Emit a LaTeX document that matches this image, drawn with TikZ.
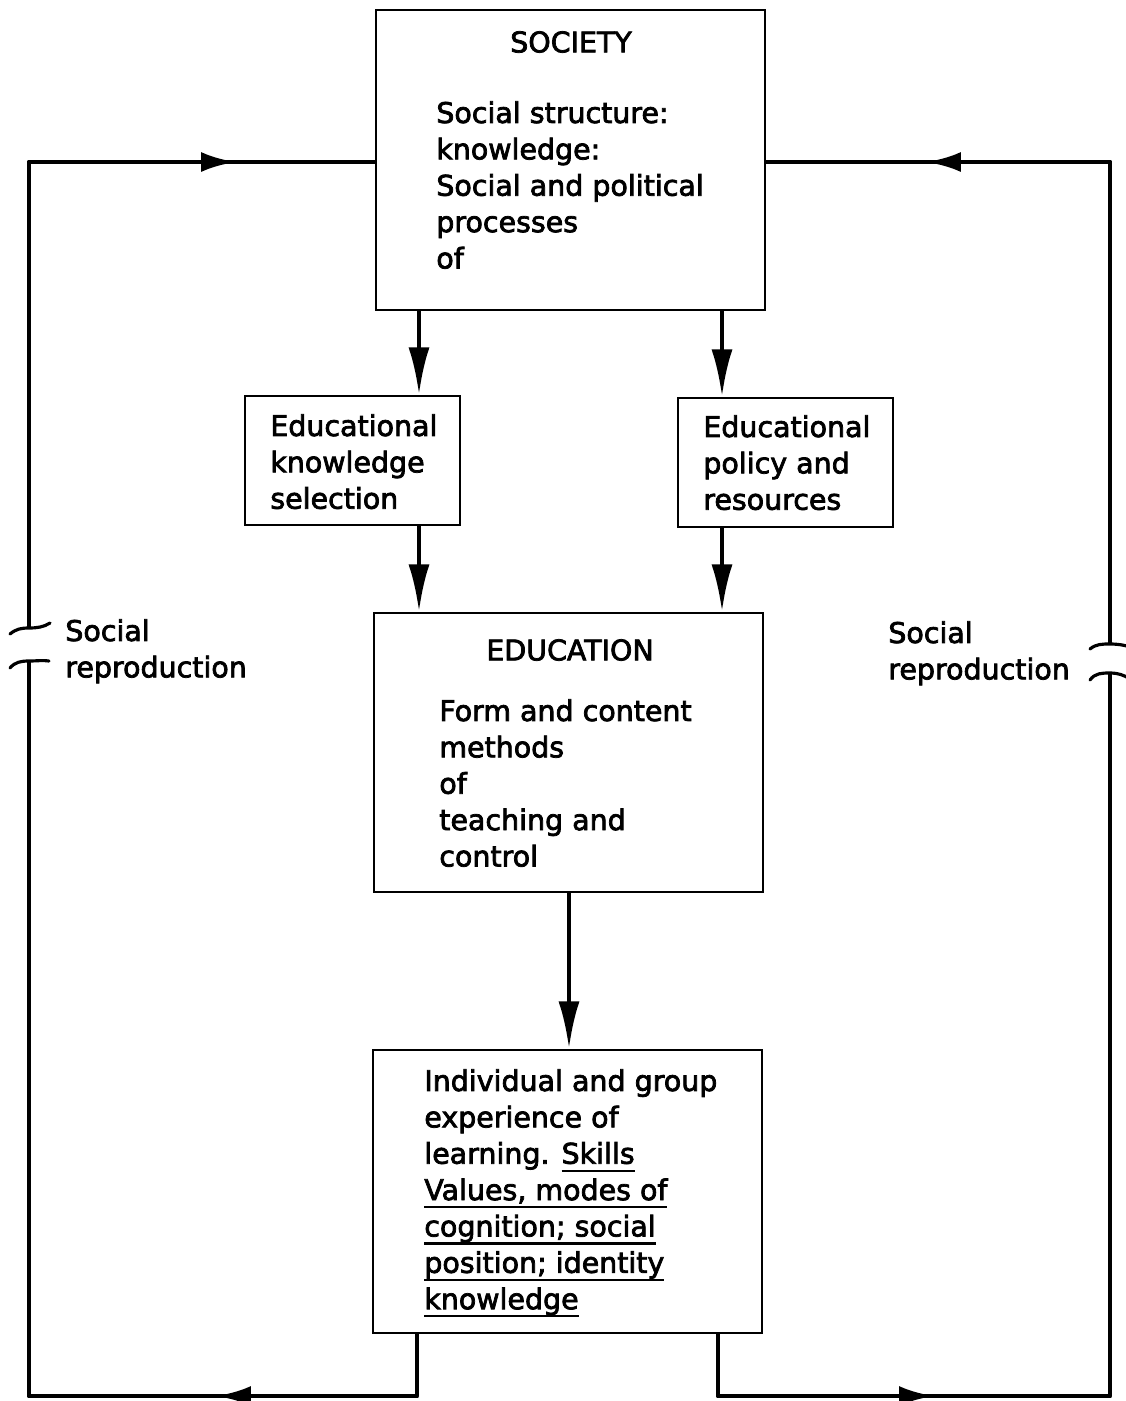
\documentclass[tikz,border=0pt]{standalone}
\usepackage{fontspec}
\setmainfont{DejaVu Sans}[RawFeature={embolden=2.6}]
\usetikzlibrary{arrows.meta,fit}
\newcommand\txtfont{\fontsize{16.2pt}{20.7pt}\selectfont}
\newcommand\ul[1]{\setbox0=\hbox{#1\vphantom{g}}\rlap{\rule[\dimexpr-\dp0-1.2pt\relax]{\wd0}{1.2pt}}\box0}

\begin{document}
\begin{tikzpicture}[x=0.02cm,y=-0.02cm,
  box/.style={draw,line width=1.3pt,inner sep=0pt},
  txt/.style={font=\txtfont,align=left,inner sep=0pt,anchor=north west},
  ttl/.style={font=\txtfont,inner sep=0pt},
  arr/.style={line width=2.6pt,-{Latex[length=9.5mm,width=4.2mm]}},
  fb/.style={line width=2.8pt,line join=round},
  tip/.style={line width=2.8pt,-{Latex[length=7mm,width=4mm]}},
  brk/.style={line width=1.8pt,line cap=round}]
  \useasboundingbox (0,0) rectangle (1126,1401);
  \clip (0,0) rectangle (1126,1401);

  % boxes
  \node[box,fit={(376,10) (765,310)}] (soc) {};
  \node[box,fit={(245,396) (460,525)}] (eks) {};
  \node[box,fit={(678,398) (893,527)}] (pol) {};
  \node[box,fit={(374,613) (763,892)}] (edu) {};
  \node[box,fit={(373,1050) (762,1333)}] (exp) {};

  % texts
  \node[ttl] (socT) at (571,42) {SOCIETY};
  \node[txt] (socX) at (436,101) {Social structure:\\knowledge:\\Social and political\\processes\\of};
  \node[txt] (eksX) at (270,414) {Educational\\knowledge\\selection};
  \node[txt] (polX) at (703,415) {Educational\\policy and\\resources};
  \node[ttl] (eduT) at (570,650) {EDUCATION};
  \node[txt] (eduX) at (439,699) {Form and content\\methods\\of\\teaching and\\control};
  \node[txt] (expX) at (424,1069) {Individual and group\\experience of\\learning. \ul{Skills}\\\ul{Values, modes of}\\\ul{cognition; social}\\\ul{position; identity}\\\ul{knowledge}};
  \node[txt] (repL) at (65,619) {Social\\reproduction};
  \node[txt] (repR) at (888,621) {Social\\reproduction};

  % x positions of the connectors
  \coordinate (xa) at (419,0);
  \coordinate (xb) at (722,0);
  \coordinate (xc) at (569,0);
  \coordinate (xd) at (417,0);
  \coordinate (xe) at (718,0);

  \draw[arr] (soc.south -| xa) -- (eks.north -| xa);
  \draw[arr] (soc.south -| xb) -- (pol.north -| xb);
  \draw[arr] (eks.south -| xa) -- (edu.north -| xa);
  \draw[arr] (pol.south -| xb) -- (edu.north -| xb);
  \draw[arr] (edu.south -| xc) -- (exp.north -| xc);

  % feedback loops
  \coordinate (lt) at (29,162);
  \coordinate (lb) at (29,1396);
  \coordinate (rt) at (1110,162);
  \coordinate (rb) at (1110,1396);
  \coordinate (la) at (29,628);
  \coordinate (lz) at (29,661);
  \coordinate (ra) at (1110,644);
  \coordinate (rz) at (1110,673);

  \draw[fb] (exp.south -| xd) |- (lb) -- (lz);
  \draw[fb] (la) -- (lt) -- (soc.west |- lt);
  \draw[fb] (exp.south -| xe) |- (rb) -- (rz);
  \draw[fb] (ra) -- (rt) -- (soc.east |- rt);

  \draw[tip] (lt) -- (236,162);
  \draw[tip] (rt) -- (926,162);
  \draw[tip] (xd |- lb) -- (216,1396);
  \draw[tip] (xe |- rb) -- (934,1396);

  % breaks
  \draw[brk] (la) +(-19,6) .. controls +(6,-5) and +(-8,0) .. (la) .. controls +(8,0) and +(-6,4) .. +(21,-5);
  \draw[brk] (lz) +(-19,7) .. controls +(5,-6) and +(-8,0) .. (lz) .. controls +(8,0) and +(-6,-1) .. +(20,0);
  \draw[brk] (ra) +(-20,5) .. controls +(6,-5) and +(-8,0) .. (ra) .. controls +(8,0) and +(-6,-2) .. +(20,3);
  \draw[brk] (rz) +(-20,7) .. controls +(5,-7) and +(-8,0) .. (rz) .. controls +(8,0) and +(-6,-4) .. +(20,6);
\end{tikzpicture}
\end{document}
